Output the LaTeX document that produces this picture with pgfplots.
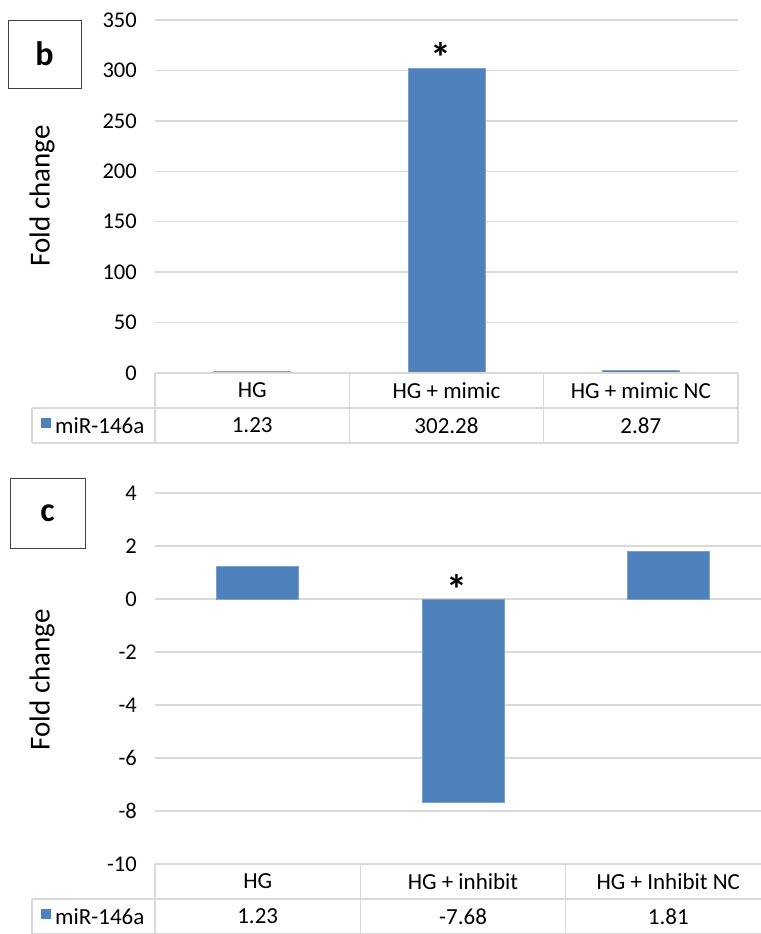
\documentclass[border=0pt]{standalone}
\usepackage{pgfplots}
\pgfplotsset{compat=1.18}
\usepackage{fontspec}
\setmainfont{Carlito}
\definecolor{barblue}{HTML}{4F81BD}
\definecolor{gridgray}{HTML}{D9D9D9}
\definecolor{boxgray}{HTML}{404040}
\newcommand{\tickfont}{\fontsize{22.5bp}{26bp}\selectfont}
\newcommand{\tabfont}{\fontsize{23bp}{27bp}\selectfont}
\newcommand{\labfont}{\fontsize{29bp}{33bp}\selectfont}
\newcommand{\boxfont}{\fontsize{34bp}{38bp}\selectfont\bfseries}
\newcommand{\starfont}{\fontsize{42bp}{46bp}\selectfont\bfseries}
\begin{document}
\begin{tikzpicture}
\useasboundingbox (0,0) rectangle (761bp,-934bp);
\clip (0,0) rectangle (761bp,-934bp);
\fill[white] (0,0) rectangle (761bp,-934bp);
\pgfplotsset{
  excelbar/.style={
    scale only axis, anchor=south west,
    xmin=-0.5, xmax=2.5, xtick=\empty,
    ymajorgrids, grid style={color=gridgray, line width=1.3bp},
    axis line style={draw=none}, major tick length=0pt,
    yticklabel style={font=\tickfont, anchor=east, inner sep=0pt, xshift=-18bp},
    ybar, clip=false,
  }
}
% ---------- panel b ----------
\begin{axis}[excelbar, at={(155bp,-373bp)}, width=583bp, height=353bp,
  ymin=0, ymax=350, ytick={0,50,100,150,200,250,300,350},
  yticklabels={0,50,100,150,200,250,300,350}, bar width=77bp]
\addplot[fill=barblue, draw=barblue!75!white, line width=0.6bp]
  coordinates {(0,1.23) (1,302.28) (2,2.87)};
\node[font=\starfont, anchor=base, inner sep=0pt] at (axis cs:0.97,298) {*};
\end{axis}
% table b
\begin{scope}[gridgray, line width=1.1bp]
\draw (155bp,-373bp) -- (738bp,-373bp);
\draw (32bp,-408bp) -- (738bp,-408bp);
\draw (32bp,-443bp) -- (738bp,-443bp);
\draw (32bp,-408bp) -- (32bp,-443bp);
\draw (155bp,-373bp) -- (155bp,-443bp);
\draw (349.3bp,-373bp) -- (349.3bp,-443bp);
\draw (543.7bp,-373bp) -- (543.7bp,-443bp);
\draw (738bp,-373bp) -- (738bp,-443bp);
\end{scope}
\node[font=\tabfont] at (252.2bp,-390.5bp) {HG};
\node[font=\tabfont] at (446.5bp,-390.5bp) {HG + mimic};
\node[font=\tabfont] at (640.8bp,-390.5bp) {HG + mimic NC};
\fill[barblue] (41bp,-418bp) rectangle (51bp,-428bp);
\node[font=\tabfont, anchor=west, inner sep=0pt] at (55bp,-425.5bp) {miR-146a};
\node[font=\tabfont] at (252.2bp,-425.5bp) {1.23};
\node[font=\tabfont] at (446.5bp,-425.5bp) {302.28};
\node[font=\tabfont] at (640.8bp,-425.5bp) {2.87};
\node[font=\labfont, rotate=90] at (42bp,-196bp) {Fold change};
\draw[boxgray, line width=1bp] (8bp,-20bp) rectangle (81bp,-88bp);
\node[font=\boxfont] at (44.5bp,-54bp) {b};
% ---------- panel c ----------
\begin{axis}[excelbar, at={(155bp,-864bp)}, width=616bp, height=371bp,
  ymin=-10, ymax=4, ytick={-10,-8,-6,-4,-2,0,2,4},
  yticklabels={-10,-8,-6,-4,-2,0,2,4}, bar width=82bp]
\addplot[fill=barblue, draw=barblue!75!white, line width=0.6bp]
  coordinates {(0,1.23) (1,-7.68) (2,1.81)};
\node[font=\starfont, anchor=base, inner sep=0pt] at (axis cs:0.97,-0.19) {*};
\end{axis}
% table c
\begin{scope}[gridgray, line width=1.1bp]
\draw (155bp,-864bp) -- (771bp,-864bp);
\draw (32bp,-899bp) -- (771bp,-899bp);
\draw (32bp,-933.5bp) -- (771bp,-933.5bp);
\draw (32bp,-899bp) -- (32bp,-934bp);
\draw (155bp,-864bp) -- (155bp,-934bp);
\draw (360.3bp,-864bp) -- (360.3bp,-934bp);
\draw (565.7bp,-864bp) -- (565.7bp,-934bp);
\end{scope}
\node[font=\tabfont] at (257.7bp,-881.5bp) {HG};
\node[font=\tabfont] at (463bp,-881.5bp) {HG + inhibit};
\node[font=\tabfont] at (668.3bp,-881.5bp) {HG + Inhibit NC};
\fill[barblue] (41bp,-909bp) rectangle (51bp,-919bp);
\node[font=\tabfont, anchor=west, inner sep=0pt] at (55bp,-916.5bp) {miR-146a};
\node[font=\tabfont] at (257.7bp,-916.5bp) {1.23};
\node[font=\tabfont] at (463bp,-916.5bp) {-7.68};
\node[font=\tabfont] at (668.3bp,-916.5bp) {1.81};
\node[font=\labfont, rotate=90] at (42bp,-680bp) {Fold change};
\draw[boxgray, line width=1bp] (10bp,-478bp) rectangle (85bp,-548bp);
\node[font=\boxfont] at (47.5bp,-513bp) {c};
\end{tikzpicture}
\end{document}
